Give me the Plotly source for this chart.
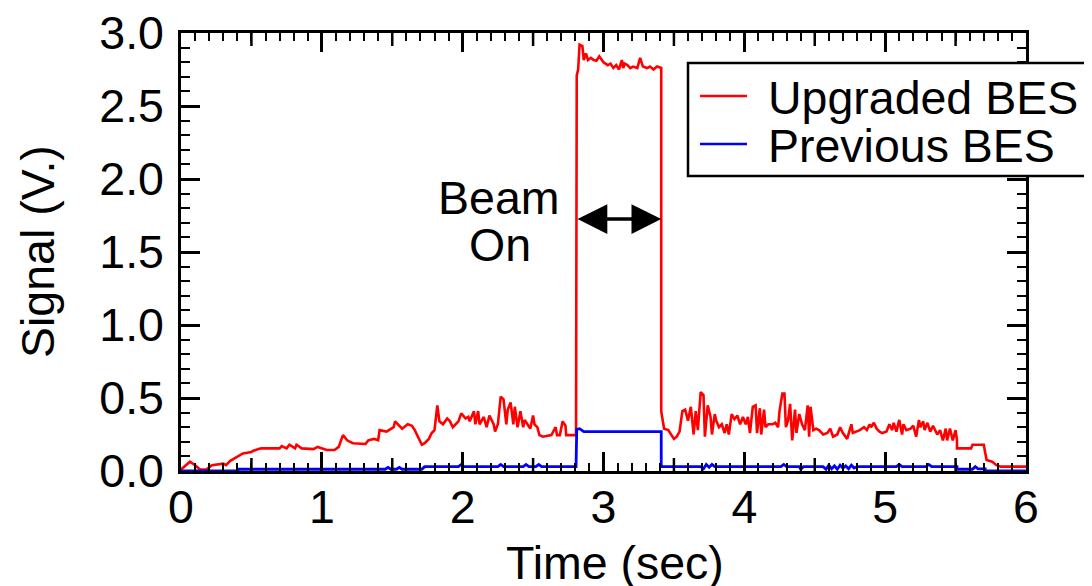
import plotly.graph_objects as go

# ---------------- data ----------------
# Upgraded BES (red) - before beam
red_t_pre = [0, 0.064, 0.10, 0.135, 0.18, 0.22, 0.30, 0.32, 0.35, 0.38,
             0.41, 0.44, 0.50, 0.51, 0.55, 0.57, 0.70, 0.715, 0.75, 0.77,
             0.81, 0.82, 0.857, 0.94, 0.97, 1.035, 1.09, 1.12, 1.15, 1.18,
             1.22, 1.31, 1.33, 1.37, 1.40, 1.41, 1.46, 1.51, 1.52, 1.55,
             1.57, 1.61, 1.64, 1.66, 1.685, 1.71, 1.73, 1.76, 1.78, 1.80,
             1.82, 1.835, 1.86, 1.89, 1.91, 1.93, 1.97, 1.99, 2.02, 2.04,
             2.05, 2.08, 2.09, 2.11, 2.12, 2.15, 2.17, 2.19, 2.22, 2.23,
             2.25, 2.27, 2.29, 2.31, 2.32, 2.34, 2.36, 2.37, 2.39, 2.41,
             2.43, 2.44, 2.46, 2.48, 2.50, 2.51, 2.53, 2.545, 2.57, 2.61,
             2.63, 2.66, 2.67, 2.69, 2.71, 2.73, 2.735, 2.805]
red_v_pre = [0.01, 0.064, 0.04, 0.01, 0.01, 0.04, 0.05, 0.04, 0.07, 0.087,
             0.10, 0.12, 0.13, 0.137, 0.15, 0.155, 0.155, 0.17, 0.155, 0.18,
             0.155, 0.18, 0.155, 0.15, 0.165, 0.144, 0.144, 0.165, 0.246, 0.21,
             0.19, 0.185, 0.21, 0.22, 0.21, 0.28, 0.27, 0.30, 0.34, 0.31,
             0.29, 0.32, 0.31, 0.28, 0.235, 0.18, 0.19, 0.22, 0.26, 0.28,
             0.45, 0.34, 0.32, 0.36, 0.34, 0.30, 0.34, 0.395, 0.36, 0.37,
             0.34, 0.41, 0.32, 0.41, 0.32, 0.37, 0.30, 0.38, 0.32, 0.27,
             0.32, 0.51, 0.49, 0.32, 0.42, 0.47, 0.32, 0.44, 0.30, 0.41,
             0.30, 0.35, 0.32, 0.29, 0.38, 0.32, 0.30, 0.246, 0.235, 0.24,
             0.246, 0.30, 0.246, 0.246, 0.34, 0.31, 0.246, 0.246]

# Upgraded BES (red) - beam on
red_t_beam = [2.81, 2.81, 2.82, 2.83, 2.85, 2.86, 2.875, 2.89, 2.91, 2.93,
              2.95, 2.97, 3.00, 3.03, 3.05, 3.07, 3.09, 3.11, 3.13, 3.14,
              3.15, 3.17, 3.19, 3.21, 3.24, 3.26, 3.28, 3.31, 3.33, 3.355,
              3.38, 3.41]
red_v_beam = [2.64, 2.71, 2.75, 2.92, 2.91, 2.815, 2.86, 2.815, 2.83, 2.815,
              2.81, 2.84, 2.80, 2.78, 2.79, 2.76, 2.78, 2.75, 2.815, 2.76,
              2.79, 2.78, 2.76, 2.77, 2.76, 2.83, 2.77, 2.76, 2.77, 2.75,
              2.77, 2.76]

# Upgraded BES (red) - after beam
red_t_post = [3.41, 3.43, 3.46, 3.50, 3.52, 3.54, 3.56, 3.58, 3.60, 3.62,
              3.64, 3.655, 3.67, 3.69, 3.71, 3.72, 3.74, 3.76, 3.77, 3.79,
              3.80, 3.82, 3.84, 3.86, 3.875, 3.89, 3.91, 3.93, 3.95, 3.97,
              3.99, 4.01, 4.025, 4.04, 4.06, 4.08, 4.09, 4.11, 4.12, 4.14,
              4.15, 4.17, 4.20, 4.22, 4.24, 4.25, 4.27, 4.285, 4.295, 4.31,
              4.325, 4.34, 4.36, 4.37, 4.39, 4.41, 4.43, 4.45, 4.46, 4.47,
              4.49, 4.51, 4.53, 4.56, 4.59, 4.61, 4.63, 4.66, 4.68, 4.70,
              4.73, 4.75, 4.76, 4.77, 4.80, 4.82, 4.85, 4.87, 4.89, 4.90,
              4.92, 4.94, 4.96, 4.98, 5.01, 5.03, 5.05, 5.06, 5.08, 5.10,
              5.12, 5.13, 5.15, 5.18, 5.20, 5.22, 5.24, 5.25, 5.27, 5.28,
              5.30, 5.32, 5.34, 5.355, 5.37, 5.39, 5.41, 5.43, 5.44, 5.46,
              5.48, 5.50, 5.51, 5.51, 5.61, 5.62, 5.70, 5.72, 5.76, 5.79,
              5.82, 6.0]
red_v_post = [0.41, 0.29, 0.28, 0.22, 0.235, 0.27, 0.41, 0.42, 0.345, 0.44,
              0.25, 0.41, 0.28, 0.54, 0.52, 0.235, 0.45, 0.37, 0.25, 0.39,
              0.345, 0.30, 0.32, 0.26, 0.32, 0.25, 0.39, 0.355, 0.38, 0.32,
              0.37, 0.32, 0.37, 0.26, 0.44, 0.45, 0.26, 0.43, 0.25, 0.42,
              0.30, 0.32, 0.32, 0.33, 0.30, 0.41, 0.53, 0.53, 0.30, 0.345,
              0.46, 0.21, 0.42, 0.26, 0.39, 0.32, 0.28, 0.45, 0.235, 0.44,
              0.28, 0.29, 0.28, 0.25, 0.26, 0.29, 0.235, 0.25, 0.30, 0.26,
              0.22, 0.30, 0.32, 0.26, 0.27, 0.28, 0.30, 0.28, 0.32, 0.30,
              0.33, 0.29, 0.27, 0.26, 0.27, 0.32, 0.28, 0.33, 0.27, 0.35,
              0.25, 0.32, 0.28, 0.29, 0.31, 0.235, 0.35, 0.30, 0.34, 0.28,
              0.33, 0.27, 0.31, 0.28, 0.25, 0.28, 0.21, 0.29, 0.21, 0.29,
              0.21, 0.28, 0.21, 0.155, 0.155, 0.18, 0.18, 0.075, 0.064, 0.04,
              0.03, 0.03]

# Previous BES (blue)
blue_t = [0, 0.40, 0.41, 1.45, 1.47, 1.49, 1.53, 1.55, 1.57, 1.71,
          1.73, 1.97, 1.99, 2.01, 2.25, 2.27, 2.29, 2.43, 2.45, 2.47,
          2.52, 2.54, 2.56, 2.805, 2.81, 2.83, 2.86, 3.41, 3.41, 3.69,
          3.71, 3.73, 3.75, 3.77, 3.79, 4.26, 4.28, 4.30, 4.39, 4.40,
          4.42, 4.56, 4.58, 4.60, 4.62, 4.64, 4.66, 4.68, 4.70, 4.72,
          4.74, 4.76, 4.78, 4.80, 5.08, 5.10, 5.12, 5.29, 5.31, 5.33,
          5.51, 5.51, 5.62, 5.64, 5.66, 5.71, 5.71, 6.0]
blue_v = [0.0, 0.0, 0.012, 0.012, 0.025, 0.012, 0.012, 0.025, 0.012, 0.012,
          0.03, 0.03, 0.045, 0.03, 0.03, 0.045, 0.03, 0.03, 0.045, 0.03,
          0.03, 0.045, 0.03, 0.03, 0.285, 0.29, 0.27, 0.27, 0.03, 0.03,
          0.015, 0.045, 0.025, 0.045, 0.03, 0.03, 0.045, 0.03, 0.03, 0.012,
          0.03, 0.03, 0.012, 0.04, 0.015, 0.035, 0.012, 0.04, 0.02, 0.035,
          0.015, 0.04, 0.02, 0.03, 0.03, 0.045, 0.03, 0.03, 0.045, 0.03,
          0.03, 0.012, 0.012, 0.03, 0.015, 0.015, 0.0, 0.0]

series_names = ["Upgraded BES", "Previous BES"]
beam_on = [2.805, 3.41]     # arrow span (sec)
beam_arrow_level = 1.726    # V
beam_label = ["Beam", "On"]
x_title = "Time (sec)"
y_title = "Signal (V.)"

red_t = red_t_pre + red_t_beam + red_t_post
red_v = red_v_pre + red_v_beam + red_v_post

# ---------------- figure ----------------
FONT = "Liberation Sans, Arial, Helvetica, sans-serif"
FS = 46.5
RED = "#ff0000"
BLUE = "#0000ff"

# plot area in figure pixels
L, T, R, B = 173, 25, 74, 123
W, H = 1092, 586
PW, PH = W - L - R, H - T - B

def px(xpix):   # figure x pixel -> paper
    return (xpix - L) / PW

def py(ypix):   # figure y pixel -> paper
    return (H - B - ypix) / PH

fig = go.Figure()
fig.add_trace(go.Scatter(x=red_t, y=red_v, mode="lines", name=series_names[0],
                         line=dict(color=RED, width=2.6), showlegend=False))
fig.add_trace(go.Scatter(x=blue_t, y=blue_v, mode="lines", name=series_names[1],
                         line=dict(color=BLUE, width=2.8), showlegend=False))

axis_common = dict(
    showline=True, linecolor="black", linewidth=2.5, mirror="ticks",
    ticks="inside", tickcolor="black", tickwidth=2.5, ticklen=19,
    showgrid=False, zeroline=False, ticklabeloverflow="allow",
    tickfont=dict(family=FONT, size=FS, color="black"),
)

fig.update_xaxes(
    range=[0, 6], tick0=0, dtick=1,
    minor=dict(dtick=0.1, ticks="inside", ticklen=8, tickwidth=2, tickcolor="black", showgrid=False),
    ticklabelstandoff=-7,
    **axis_common,
)
fig.update_yaxes(
    range=[0, 3.0], tick0=0, dtick=0.5, tickformat=".1f",
    minor=dict(dtick=0.1, ticks="inside", ticklen=9, tickwidth=2, tickcolor="black", showgrid=False),
    ticklabelstandoff=5,
    **axis_common,
)

# medium ticks at half-seconds (bottom and top)
shapes = []
mlen = 13 / PH
for k in range(6):
    xm = k + 0.5
    shapes.append(dict(type="line", xref="x", yref="paper", x0=xm, x1=xm, y0=0, y1=mlen,
                       line=dict(color="black", width=2.5)))
    shapes.append(dict(type="line", xref="x", yref="paper", x0=xm, x1=xm, y0=1, y1=1 - mlen,
                       line=dict(color="black", width=2.5)))

# legend box (drawn manually; it runs past the right edge as in the reference)
shapes.append(dict(type="rect", xref="paper", yref="paper", x0=px(680), x1=1.4,
                   y0=py(168), y1=py(55),
                   line=dict(color="black", width=2.5), fillcolor="white", layer="above"))
leg_y = [py(88), py(136)]
for col, yy in zip([RED, BLUE], leg_y):
    shapes.append(dict(type="line", xref="paper", yref="paper", x0=px(692), x1=px(739), y0=yy, y1=yy,
                       line=dict(color=col, width=2.5), layer="above"))

annotations = []
for name, yy in zip(series_names, leg_y):
    annotations.append(dict(xref="paper", yref="paper", x=px(758), y=yy - 2 / PH, xanchor="left",
                            yanchor="middle", text=name, showarrow=False,
                            font=dict(family=FONT, size=FS, color="black")))

# axis titles
annotations.append(dict(xref="paper", yref="paper", x=px(607), y=py(555), xanchor="center",
                        yanchor="middle", text=x_title, showarrow=False,
                        font=dict(family=FONT, size=FS, color="black")))
annotations.append(dict(xref="paper", yref="paper", x=px(30), y=py(244), xanchor="center",
                        yanchor="middle", text=y_title, showarrow=False, textangle=-90,
                        font=dict(family=FONT, size=FS, color="black")))

# Beam On label and double arrow
annotations.append(dict(xref="x", yref="y", x=2.251, y=1.87, text=beam_label[0], showarrow=False,
                        xanchor="center", yanchor="middle", font=dict(family=FONT, size=FS, color="black")))
annotations.append(dict(xref="x", yref="y", x=2.266, y=1.545, text=beam_label[1], showarrow=False,
                        xanchor="center", yanchor="middle", font=dict(family=FONT, size=FS, color="black")))
annotations.append(dict(xref="x", yref="y", x=beam_on[1], y=beam_arrow_level,
                        axref="x", ayref="y", ax=beam_on[0], ay=beam_arrow_level,
                        text="", showarrow=True, arrowhead=2, arrowside="end+start",
                        arrowwidth=3.5, arrowsize=1.7, arrowcolor="black", standoff=0, startstandoff=0))

fig.update_layout(
    width=W, height=H,
    margin=dict(l=L, r=R, t=T, b=B, autoexpand=False),
    paper_bgcolor="white", plot_bgcolor="white",
    font=dict(family=FONT, size=FS, color="black"),
    shapes=shapes, annotations=annotations,
    showlegend=False,
)

fig.write_html("out.html")
